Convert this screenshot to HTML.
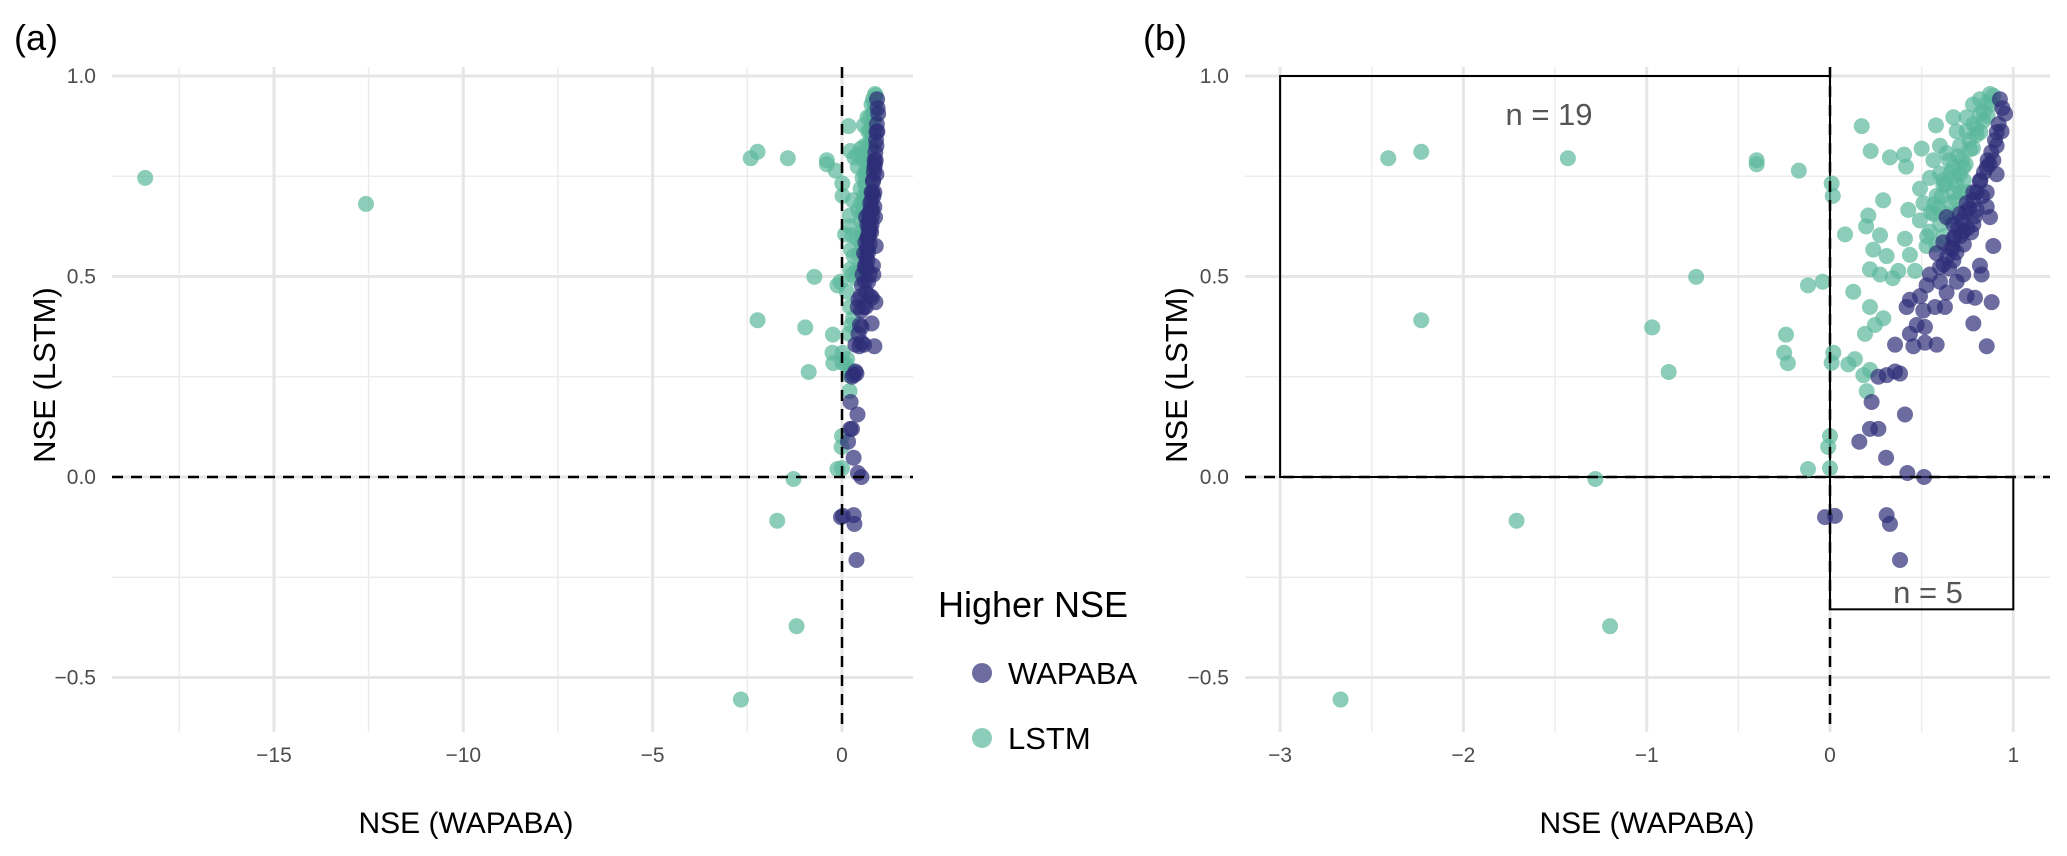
<!DOCTYPE html>
<html><head><meta charset="utf-8"><style>
body{margin:0;background:#fff;}
svg{display:block;font-family:"Liberation Sans",sans-serif;}
</style></head><body>
<svg id="chart" width="2067" height="856" viewBox="0 0 2067 856"></svg>
<script>
// ---- data (NSE WAPABA on x, NSE LSTM on y) ----
const lstmX = [-18.4,-12.57,-2.41,-2.23,-1.43,-0.40,-0.40,-0.17,-2.23,-0.73,-0.97,-0.88,-0.24,-0.25,-0.23,-0.12,-0.04,-0.12,-1.28,-1.71,-1.20,-2.67,
0.173,0.222,0.327,0.404,0.415,0.50,0.578,0.673,0.78,0.873,0.009,0.015,0.29,0.209,0.197,0.082,0.273,0.236,0.309,0.218,0.273,0.342,0.373,0.409,0.427,0.491,0.436,0.464,0.127,0.218,0.291,0.245,0.191,0.136,0.100,0.182,0.218,0.2,0.009,0.018,0.0,-0.01,0.0,
0.564,0.6,0.636,0.673,0.709,0.745,0.782,0.818,0.855,0.891,0.582,0.618,0.655,0.691,0.727,0.764,0.8,0.836,0.564,0.6,0.636,0.673,0.709,0.545,0.527,0.49,0.51,0.545,0.6,0.745,0.691,0.818,
0.62,0.65,0.68,0.70,0.72,0.74,0.76,0.78,0.80,0.82,0.84,0.86,0.88,0.59,0.61,0.63,0.66,0.69,0.71,0.73,0.57,0.55,0.53,0.58,0.62,0.66,0.70,0.75];
const lstmY = [0.746,0.681,0.795,0.811,0.795,0.79,0.78,0.764,0.391,0.499,0.373,0.262,0.355,0.31,0.284,0.478,0.487,0.02,-0.005,-0.109,-0.372,-0.555,
0.875,0.813,0.797,0.804,0.774,0.819,0.877,0.897,0.929,0.955,0.732,0.701,0.69,0.652,0.625,0.605,0.603,0.567,0.551,0.518,0.505,0.496,0.514,0.594,0.666,0.719,0.554,0.514,0.462,0.424,0.396,0.379,0.357,0.294,0.281,0.254,0.267,0.214,0.285,0.31,0.102,0.075,0.022,
0.79,0.757,0.808,0.772,0.826,0.862,0.88,0.906,0.933,0.951,0.701,0.728,0.683,0.728,0.772,0.817,0.853,0.888,0.656,0.63,0.656,0.71,0.755,0.612,0.576,0.64,0.683,0.746,0.826,0.897,0.862,0.942,
0.74,0.79,0.75,0.80,0.79,0.78,0.84,0.82,0.87,0.86,0.91,0.90,0.93,0.67,0.70,0.73,0.76,0.69,0.71,0.74,0.68,0.66,0.60,0.58,0.60,0.64,0.66,0.71];
const wapX = [0.927,0.955,0.936,0.909,0.891,0.909,0.855,0.818,0.855,0.782,0.745,0.709,0.673,0.636,0.8,0.855,0.873,0.782,0.727,0.673,0.618,0.582,0.6,0.673,0.727,0.691,0.6,0.545,0.636,0.891,0.818,0.827,0.745,0.791,0.882,0.782,0.855,0.527,0.491,0.436,0.418,0.509,0.573,0.627,0.473,0.436,0.518,0.455,0.518,0.582,0.355,0.355,0.309,0.264,0.382,0.227,0.409,0.218,0.264,0.16,0.306,0.422,0.513,-0.027,0.027,0.309,0.327,0.382,
0.94,0.92,0.90,0.88,0.86,0.84,0.82,0.80,0.78,0.76,0.74,0.72,0.70,0.68,0.66,0.64,0.62,0.91,0.87,0.83,0.79,0.75,0.71,0.67,0.65,0.69,0.73,0.77];
const wapY = [0.942,0.906,0.862,0.826,0.79,0.755,0.772,0.737,0.71,0.71,0.683,0.656,0.63,0.648,0.666,0.674,0.648,0.63,0.612,0.594,0.585,0.558,0.523,0.54,0.505,0.487,0.487,0.505,0.46,0.576,0.527,0.505,0.451,0.447,0.436,0.383,0.326,0.478,0.451,0.442,0.424,0.415,0.424,0.424,0.379,0.357,0.374,0.326,0.335,0.33,0.33,0.263,0.254,0.25,0.258,0.187,0.156,0.12,0.12,0.088,0.048,0.01,0.0,-0.10,-0.097,-0.095,-0.117,-0.207,
0.92,0.88,0.84,0.81,0.79,0.76,0.74,0.71,0.69,0.67,0.66,0.64,0.62,0.60,0.57,0.55,0.53,0.86,0.78,0.70,0.65,0.62,0.60,0.57,0.52,0.56,0.58,0.61];
const yTicks = [1.0,0.5,0.0,-0.5];
const yTickLabels = ["1.0","0.5","0.0","\u22120.5"];
const xTicksA = [-15,-10,-5,0];
const xTickLabelsA = ["\u221215","\u221210","\u22125","0"];
const xTicksB = [-3,-2,-1,0,1];
const xTickLabelsB = ["\u22123","\u22122","\u22121","0","1"];

const NS="http://www.w3.org/2000/svg";
const svg=document.getElementById('chart');
function mk(tag,attrs,parent){const e=document.createElementNS(NS,tag);for(const k in attrs)e.setAttribute(k,attrs[k]);(parent||svg).appendChild(e);return e;}
const yPx=v=>477-v*401;
const panels=[
 {id:'a',left:112,right:913,x:v=>842+v*37.87,xt:xTicksA,xl:xTickLabelsA,minor:[-17.5,-12.5,-7.5,-2.5],titleX:466,tag:'(a)',tagX:14,ytitleX:44},
 {id:'b',left:1245,right:2050,x:v=>1830+v*183.3,xt:xTicksB,xl:xTickLabelsB,minor:[-2.5,-1.5,-0.5,0.5],titleX:1647,tag:'(b)',tagX:1143,ytitleX:1176}
];
const plotTop=67,plotBottom=732;
const defs=mk('defs',{});
panels.forEach(p=>{
  const cp=mk('clipPath',{id:'clip-'+p.id},defs);
  mk('rect',{x:p.left,y:plotTop,width:p.right-p.left,height:plotBottom-plotTop},cp);
  const g=mk('g',{});
  
  
  [0.75,0.25,-0.25].forEach(v=>{const l=mk('line',{x1:p.left,x2:p.right,y1:yPx(v),y2:yPx(v),stroke:'#ececec','stroke-width':1.5},g);});
  p.minor.forEach(v=>{const l=mk('line',{x1:p.x(v),x2:p.x(v),y1:plotTop,y2:plotBottom,stroke:'#ececec','stroke-width':1.5},g);});
  yTicks.forEach((v,i)=>{
    const l=mk('line',{x1:p.left,x2:p.right,y1:yPx(v),y2:yPx(v),stroke:'#e6e6e6','stroke-width':3},g);
    
    const t=mk('text',{x:p.left-16,y:yPx(v)+7,'text-anchor':'end','font-size':21,fill:'#4d4d4d'},g);
    t.textContent=yTickLabels[i];
  });
  p.xt.forEach((v,i)=>{
    const l=mk('line',{x1:p.x(v),x2:p.x(v),y1:plotTop,y2:plotBottom,stroke:'#e6e6e6','stroke-width':3},g);
    
    const t=mk('text',{x:p.x(v),y:762,'text-anchor':'middle','font-size':21,fill:'#4d4d4d'},g);
    t.textContent=p.xl[i];
  });
  if(p.id==='b'){
    const r1=mk('rect',{x:p.x(-3),y:yPx(1),width:p.x(0)-p.x(-3),height:yPx(0)-yPx(1),fill:'none',stroke:'#000','stroke-width':2},g);
    
    const r2=mk('rect',{x:p.x(0),y:yPx(0),width:p.x(1)-p.x(0),height:yPx(-0.33)-yPx(0),fill:'none',stroke:'#000','stroke-width':2},g);
    
    const n1=mk('text',{x:1549,y:125,'text-anchor':'middle','font-size':31,fill:'#555'},g);n1.textContent='n = 19';
    
    const n2=mk('text',{x:1928,y:603,'text-anchor':'middle','font-size':31,fill:'#555'},g);n2.textContent='n = 5';
    
  }
  const pg=mk('g',{'clip-path':'url(#clip-'+p.id+')'},g);
  lstmX.forEach((v,i)=>{const c=mk('circle',{cx:p.x(v),cy:yPx(lstmY[i]),r:8,fill:'#5bb89b','fill-opacity':0.7},pg);});
  wapX.forEach((v,i)=>{const c=mk('circle',{cx:p.x(v),cy:yPx(wapY[i]),r:8,fill:'#2e2e78','fill-opacity':0.7},pg);});
  const h=mk('line',{x1:p.left,x2:p.right,y1:yPx(0),y2:yPx(0),stroke:'#000','stroke-width':2.5,'stroke-dasharray':'11,8'},g);
  
  const vl=mk('line',{x1:p.x(0),x2:p.x(0),y1:plotTop,y2:plotBottom,stroke:'#000','stroke-width':2.5,'stroke-dasharray':'11,8'},g);
  
  const xt=mk('text',{x:p.titleX,y:833,'text-anchor':'middle','font-size':30,fill:'#000'},g);xt.textContent='NSE (WAPABA)';
  
  const yt=mk('text',{x:0,y:0,'text-anchor':'middle','font-size':31,fill:'#000',transform:'translate('+(p.ytitleX+11)+',375) rotate(-90)'},g);yt.textContent='NSE (LSTM)';
  
  const tg=mk('text',{x:p.tagX,y:50,'font-size':36,fill:'#000'},g);tg.textContent=p.tag;
  
});
const lg=mk('g',{});


const lt=mk('text',{x:938,y:617,'font-size':36,fill:'#000'},lg);lt.textContent='Higher NSE';

[['WAPABA','#2e2e78',673],['LSTM','#5bb89b',738]].forEach(d=>{
  const c=mk('circle',{cx:982,cy:d[2],r:10,fill:d[1],'fill-opacity':0.7},lg);
  
  const t=mk('text',{x:1008,y:d[2]+11,'font-size':31,fill:'#000'},lg);t.textContent=d[0];
  
});
</script>
</body></html>
